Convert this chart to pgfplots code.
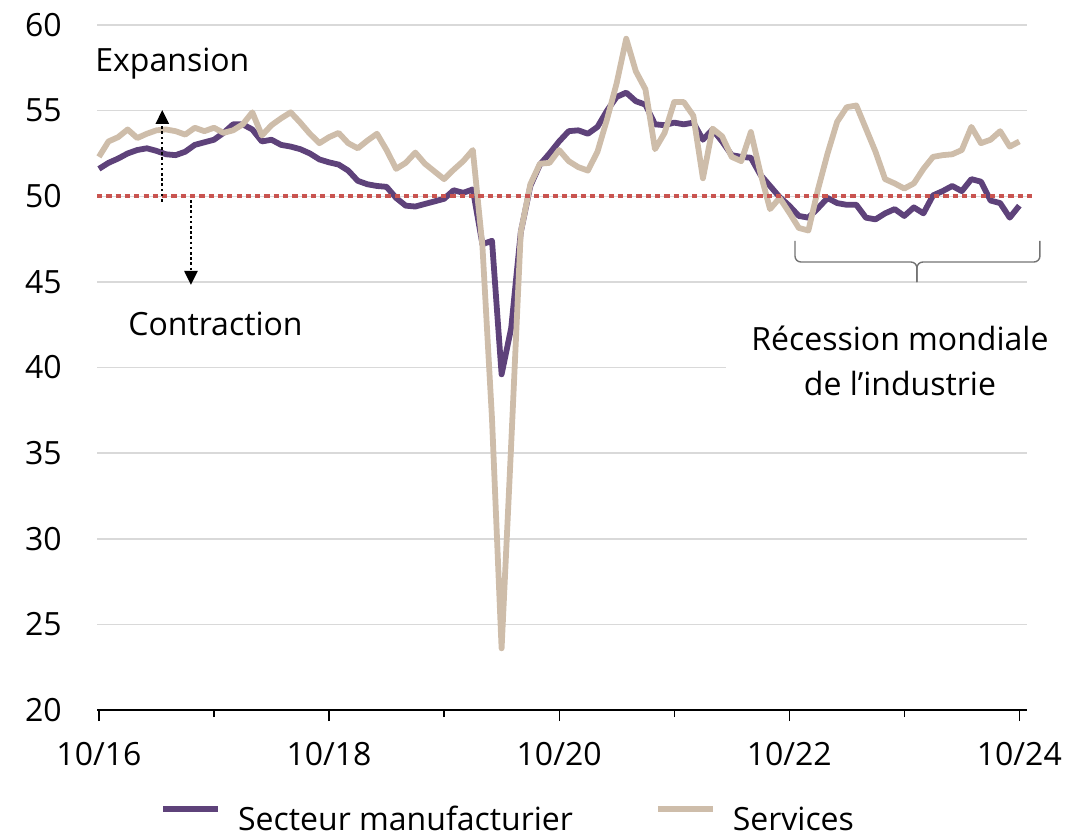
\documentclass[border=0pt]{standalone}
\usepackage{fontspec}
\setmainfont{Open Sans}
\usepackage{pgfplots}
\pgfplotsset{compat=1.18}
\usepackage{pgfplotstable}
\usetikzlibrary{arrows.meta}
\definecolor{mfg}{RGB}{94,66,122}
\definecolor{srv}{RGB}{206,189,170}
\definecolor{refred}{RGB}{201,84,80}
\definecolor{gridgray}{RGB}{217,217,217}

\pgfplotstableread{
m mfg srv
0 51.6 52.3
1 51.95 53.2
2 52.2 53.45
3 52.5 53.9
4 52.7 53.4
5 52.8 53.65
6 52.65 53.85
7 52.45 53.9
8 52.4 53.8
9 52.6 53.6
10 53.0 54.0
11 53.15 53.8
12 53.3 54.0
13 53.7 53.7
14 54.2 53.85
15 54.2 54.2
16 53.9 54.9
17 53.2 53.55
18 53.3 54.15
19 53.0 54.55
20 52.9 54.9
21 52.75 54.3
22 52.5 53.65
23 52.15 53.1
24 51.98 53.45
25 51.85 53.7
26 51.5 53.1
27 50.9 52.8
28 50.7 53.25
29 50.6 53.65
30 50.55 52.7
31 49.9 51.6
32 49.45 51.95
33 49.4 52.55
34 49.55 51.9
35 49.7 51.45
36 49.85 51.0
37 50.35 51.55
38 50.2 52.05
39 50.4 52.7
40 47.2 47.1
41 47.4 37.0
42 39.6 23.6
43 42.3 35.5
44 47.9 47.9
45 50.6 50.7
46 51.85 51.9
47 52.5 51.95
48 53.2 52.7
49 53.8 52.05
50 53.85 51.7
51 53.65 51.5
52 54.05 52.6
53 55.0 54.5
54 55.8 56.6
55 56.05 59.2
56 55.55 57.3
57 55.35 56.25
58 54.2 52.75
59 54.15 53.7
60 54.3 55.5
61 54.2 55.5
62 54.3 54.7
63 53.3 51.05
64 53.9 53.95
65 53.2 53.5
66 52.4 52.3
67 52.3 52.05
68 52.25 53.75
69 51.25 51.35
70 50.6 49.25
71 49.95 49.9
72 49.45 49.05
73 48.85 48.15
74 48.75 48.0
75 49.3 50.4
76 49.9 52.5
77 49.6 54.35
78 49.5 55.2
79 49.5 55.3
80 48.75 53.95
81 48.65 52.6
82 49.0 51.0
83 49.25 50.75
84 48.85 50.45
85 49.35 50.75
86 49.0 51.6
87 50.05 52.3
88 50.3 52.4
89 50.6 52.45
90 50.3 52.7
91 51.0 54.05
92 50.85 53.1
93 49.75 53.3
94 49.6 53.8
95 48.75 52.9
96 49.45 53.2
}\data

\begin{document}
\fontsize{16bp}{22.5bp}\selectfont
\begin{tikzpicture}
\useasboundingbox (-48.5bp,-63bp) rectangle (494bp,355bp);
\begin{axis}[
  at={(0,0)}, anchor=south west,
  scale only axis, width=465bp, height=342.5bp,
  xmin=-0.2, xmax=96.8, ymin=20, ymax=60,
  clip=false,
  axis x line*=bottom, axis y line*=left,
  y axis line style={draw=none},
  x axis line style={black, line width=0.6bp},
  xtick={0,24,48,72,96},
  xticklabels={10/16,10/18,10/20,10/22,10/24},
  minor xtick={12,36,60,84},
  tick align=outside,
  major tick length=5.5bp, minor tick length=3.5bp,
  xtick style={black, line width=0.6bp},
  minor x tick style={black, line width=0.6bp},
  ytick={20,25,...,60},
  ytick style={draw=none},
  ymajorgrids, grid style={gridgray, line width=0.75bp},
  /pgf/number format/assume math mode=true,
  yticklabel style={anchor=east, inner sep=0pt, xshift=-12bp},
  xticklabel style={anchor=north, inner sep=0pt, yshift=-10.5bp},
  legend columns=2,
  legend cell align=left,
  legend style={at={(0.0677,-0.162)}, anchor=west, draw=none, fill=none,
    inner sep=0pt, nodes={inner sep=0pt},
    /tikz/every odd column/.append style={column sep=8.5bp},
    /tikz/every even column/.append style={column sep=41bp}},
  legend image code/.code={\draw[#1, line width=2.9bp] (0bp,6bp) -- (27.5bp,6bp);},
]
\addplot[mfg, line width=2.9bp, line join=round, mark=none] table[x=m, y=mfg] {\data};
\addlegendentry{Secteur manufacturier}
\addplot[srv, line width=2.9bp, line join=round, mark=none] table[x=m, y=srv] {\data};
\addlegendentry{Services}

\draw[refred, line width=2.2bp, dash pattern=on 2.6bp off 2.05bp] (axis cs:-0.2,50) -- (axis cs:97.42,50);

\draw[black, line width=1.2bp, dash pattern=on 1.3bp off 1.3bp, -{Triangle[width=6.5bp,length=7bp]}]
  (axis cs:6.61,49.69) -- (axis cs:6.61,55.04);
\draw[black, line width=1.2bp, dash pattern=on 1.3bp off 1.3bp, -{Triangle[width=6.5bp,length=7bp]}]
  (axis cs:9.6,49.78) -- (axis cs:9.6,44.82);

\node[anchor=base west, inner sep=0pt] at (axis cs:-0.41,57.31) {Expansion};
\node[anchor=base west, inner sep=0pt] at (axis cs:3.03,41.84) {Contraction};

\node[fill=white, align=center, inner xsep=12.5bp, inner ysep=0pt, anchor=north]
  at (axis cs:83.55,42.44) {Récession mondiale\\de l’industrie};

\draw[black!55, line width=0.7bp, rounded corners=3bp]
  (axis cs:72.6,47.39) |- (axis cs:85.32,46.16) -- (axis cs:85.32,44.99);
\draw[black!55, line width=0.7bp, rounded corners=3bp]
  (axis cs:98.15,47.39) |- (axis cs:85.32,46.16) -- (axis cs:85.32,44.99);
\end{axis}
\end{tikzpicture}
\end{document}
